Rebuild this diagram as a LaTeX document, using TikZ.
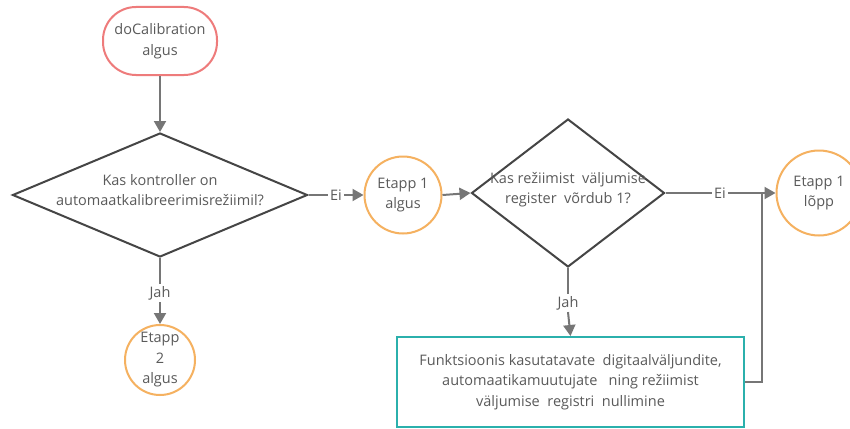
\documentclass[tikz,border=0pt]{standalone}
\usepackage{fontspec}
\setmainfont{Open Sans}
\usetikzlibrary{arrows.meta,shapes.geometric}
\definecolor{txt}{HTML}{5A5A5A}
\definecolor{ln}{HTML}{767676}
\definecolor{dk}{HTML}{454545}
\definecolor{org}{HTML}{F5B160}
\definecolor{tl}{HTML}{2BB0AC}
\definecolor{rd}{HTML}{EE7B7B}
\tikzset{
  every node/.style={font=\fontsize{14.5}{20.5}\selectfont, text=txt, align=center},
  startbox/.style={draw=rd, line width=2pt, rounded corners=33pt, minimum width=114pt, minimum height=68pt, inner sep=0pt},
  decbox/.style={draw=dk, line width=2pt, shape=diamond, inner sep=0pt},
  etc/.style={draw=org, line width=2pt, circle, inner sep=0pt},
  procbox/.style={draw=tl, line width=2pt, minimum width=347pt, minimum height=90pt, inner sep=0pt},
  conn/.style={draw=ln, line width=2pt},
  arr/.style={conn, -{Triangle[length=11pt,width=12pt]}},
  lbl/.style={inner sep=2pt}
}
\newcommand{\zw}[1]{\smash{\makebox[0pt]{\begin{tabular}{@{}c@{}}#1\end{tabular}}}}
\begin{document}
\begin{tikzpicture}[x=1pt,y=-1pt]
\useasboundingbox[fill=white] (0,0) rectangle (850,428);
\node[startbox] (start) at (160,41) {doCalibration\\algus};
\node[decbox, minimum width=295pt, minimum height=124pt] (d1) at (160,195) {\zw{Kas kontroller on\\automaatkalibreerimisrežiimil?}};
\node[etc, minimum size=77pt] (e1a) at (403,195) {Etapp 1\\algus};
\node[decbox, minimum width=193pt, minimum height=148pt] (d2) at (568,193) {\zw{Kas režiimist\ \ väljumise\\register\ \ võrdub 1?}};
\node[etc, minimum size=85pt] (e1l) at (819,193) {Etapp 1\\lõpp};
\node[etc, minimum size=70pt] (e2a) at (160,360) {Etapp\\2\\algus};
\node[procbox] (proc) at (570.5,382) {Funktsioonis kasutatavate\ \ digitaalväljundite,\\automaatikamuutujate\ \ \ ning režiimist\\väljumise\ \ registri\ \ nullimine};
\node[lbl] (ei1) at (336,195) {Ei};
\node[lbl] (ei2) at (720,193) {Ei};
\node[lbl] (jah1) at (160,293) {Jah};
\node[lbl] (jah2) at (568,303) {Jah};
\coordinate (j) at (762,193);
\draw[arr] (start.south) -- (d1.north);
\draw[conn] (d1.east) -- (ei1.west);
\draw[arr] (ei1.east) -- (e1a.west);
\draw[arr] (e1a.east) -- (d2.west);
\draw[conn] (d1.south) -- (jah1.north);
\draw[arr] (jah1.south) -- (e2a.north);
\draw[conn] (d2.south) -- (jah2.north);
\draw[arr] (jah2.south) -- (proc.north);
\draw[conn] (d2.east) -- (ei2.west);
\draw[arr] (ei2.east) -- (e1l.west);
\draw[conn] (proc.east) -| (j);
\end{tikzpicture}
\end{document}
